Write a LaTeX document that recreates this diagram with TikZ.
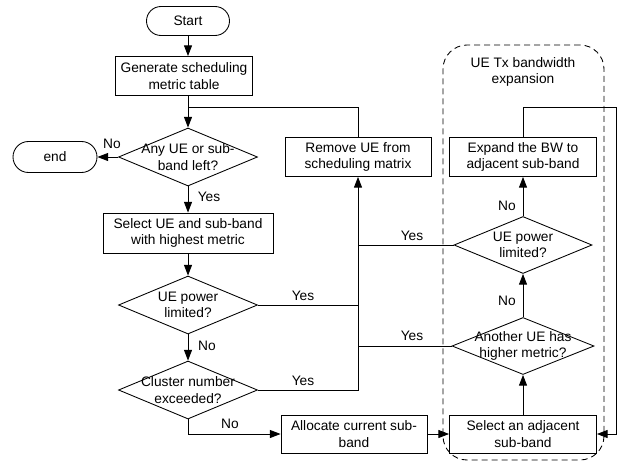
\documentclass[tikz,border=0pt]{standalone}
\usepackage{fontspec}
\setmainfont{Liberation Sans}
\usetikzlibrary{shapes.geometric,shapes.misc,arrows.meta}
\begin{document}
\begin{tikzpicture}[x=0.75pt,y=-0.75pt,
  font=\fontsize{10.3}{12.4}\selectfont,
  line width=0.65pt,
  >={Triangle[length=8pt,width=6pt]},
  box/.style={draw, rectangle, align=center, inner sep=0pt},
  term/.style={draw, rounded rectangle, inner sep=0pt},
  dia/.style={draw, diamond, inner sep=0pt},
  txt/.style={align=center, inner sep=0pt},
  lbl/.style={inner sep=0pt}]
\useasboundingbox (0,0) rectangle (628,464);

% group
\node[draw, dashed, dash pattern=on 4.5pt off 3pt, rounded corners=18pt,
  minimum width=120.75pt, minimum height=311.25pt] (grp) at (523.5,252.5) {};
\node[txt] (grplbl) at (523,72) {UE Tx bandwidth\\expansion};

% left column
\node[term, minimum width=62.25pt, minimum height=21.75pt] (start) at (188,21) {Start};
\node[box, minimum width=103pt, minimum height=29.25pt] (gen) at (184,76) {Generate scheduling\\metric table};
\node[dia, minimum width=104.25pt, minimum height=43.5pt] (d1) at (188,157) {};
\node[txt] (d1t) at (d1) {Any UE or sub-\\band left?};
\node[term, minimum width=63pt, minimum height=23.25pt] (end) at (55,157) {end};
\node[box, minimum width=127.5pt, minimum height=30pt] (sel) at (188,233) {Select UE and sub-band\\with highest metric};
\node[dia, minimum width=104.25pt, minimum height=43.5pt] (d2) at (188,305) {};
\node[txt] (d2t) at (d2) {UE power\\limited?};
\node[dia, minimum width=104.25pt, minimum height=43.5pt] (d3) at (188,390) {};
\node[txt] (d3t) at (d3) {Cluster number\\exceeded?};
\node[box, minimum width=109.5pt, minimum height=28.5pt] (alloc) at (354,434) {Allocate current sub-\\band};

% middle
\node[box, minimum width=109.5pt, minimum height=29.25pt] (rem) at (358,157) {Remove UE from\\scheduling matrix};

% right column
\node[box, minimum width=110.25pt, minimum height=29.25pt] (exp) at (523,157) {Expand the BW to\\adjacent sub-band};
\node[dia, minimum width=103.5pt, minimum height=42.75pt] (d5) at (523,245) {};
\node[txt] (d5t) at (d5) {UE power\\limited?};
\node[dia, minimum width=106.5pt, minimum height=42.75pt] (d4) at (523,346) {};
\node[txt] (d4t) at (d4) {Another UE has\\higher metric?};
\node[box, minimum width=110.25pt, minimum height=28.5pt] (sel2) at (523,434) {Select an adjacent\\sub-band};

\coordinate (j1) at (188,107);
\coordinate (j2) at (616,107);

% connectors
\draw[->] (start.south) -- (start.south |- gen.north);
\draw[->] (d1.north |- gen.south) -- (d1.north);
\draw (rem.north) |- (j1);
\draw[->] (d1.west) -- (end.east);
\draw[->] (d1.south) -- (sel.north);
\draw[->] (sel.south) -- (d2.north);
\draw[->] (d2.south) -- (d3.north);
\draw (d2.east) -- (d2.east -| rem.south);
\draw[->] (d3.east) -- (d3.east -| rem.south) -- (rem.south);
\draw (d4.west) -- (d4.west -| rem.south);
\draw (d5.west) -- (d5.west -| rem.south);
\draw[->] (d3.south) |- (alloc.west);
\draw[->] (alloc.east) -- (sel2.west);
\draw[->] (sel2.north) -- (d4.south);
\draw[->] (d4.north) -- (d5.south);
\draw[->] (d5.north) -- (exp.south);
\draw[->] (exp.north) |- (j2) |- (sel2.east);

% labels
\node[lbl] (l1) at (112,144) {No};
\node[lbl] (l2) at (209,197) {Yes};
\node[lbl] (l3) at (303,296) {Yes};
\node[lbl] (l4) at (207,346) {No};
\node[lbl] (l5) at (303,381) {Yes};
\node[lbl] (l6) at (230,424) {No};
\node[lbl] (l7) at (412,236) {Yes};
\node[lbl] (l8) at (412,336) {Yes};
\node[lbl] (l9) at (507,301) {No};
\node[lbl] (l10) at (507,206) {No};
\end{tikzpicture}
\end{document}
